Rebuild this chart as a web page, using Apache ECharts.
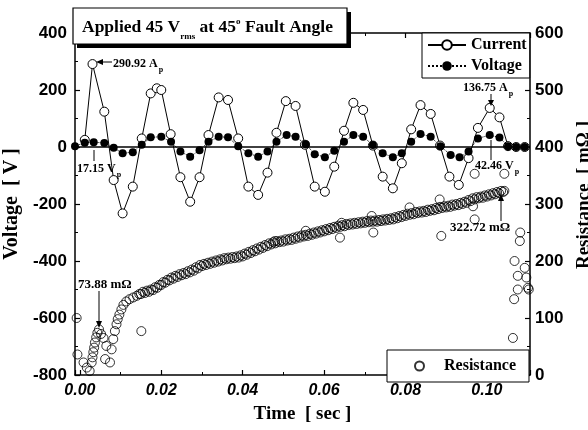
<!DOCTYPE html>
<html>
<head>
<meta charset="utf-8">
<script src="https://cdn.jsdelivr.net/npm/echarts@6/dist/echarts.min.js"></script>
<style>html,body{margin:0;padding:0;background:#fff}#c{width:588px;height:430px}</style>
</head>
<body>
<div id="c"></div>
<script>
// ---- data ----
var xTickDecimals = 2;
var currentData = [
  [0.0012, 25], [0.0031, 291], [0.0060, 124], [0.0083, -116], [0.0105, -233], [0.0130, -139],
  [0.0152, 30], [0.0174, 188], [0.0189, 206], [0.0200, 200], [0.0223, 45], [0.0247, -106],
  [0.0271, -192], [0.0294, -106], [0.0316, 42], [0.0341, 174], [0.0364, 165], [0.0389, 30],
  [0.0414, -139], [0.0438, -168], [0.0461, -90], [0.0483, 50], [0.0506, 161], [0.0530, 144],
  [0.0553, 8], [0.0577, -139], [0.0602, -157], [0.0625, -69], [0.0649, 57], [0.0672, 155],
  [0.0696, 130], [0.0720, 5], [0.0744, -104], [0.0769, -145], [0.0791, -57], [0.0814, 62],
  [0.0837, 147], [0.0862, 116], [0.0885, 5], [0.0908, -104], [0.0931, -133], [0.0955, -39],
  [0.0978, 67], [0.1007, 137], [0.1031, 104], [0.1052, 3], [0.1072, 0], [0.1093, 0]
];
var voltageData = [
  [-0.0012, 3], [0.0012, 15], [0.0034, 17], [0.0060, 14], [0.0083, -3], [0.0105, -22],
  [0.0130, -18], [0.0152, 8], [0.0174, 34], [0.0200, 36], [0.0224, 18], [0.0247, -16],
  [0.0271, -34], [0.0294, -11], [0.0316, 18], [0.0341, 36], [0.0364, 34], [0.0389, 3],
  [0.0414, -22], [0.0438, -34], [0.0461, -16], [0.0483, 18], [0.0508, 42], [0.0530, 36],
  [0.0555, 10], [0.0577, -25], [0.0602, -36], [0.0625, -13], [0.0649, 18], [0.0672, 42],
  [0.0696, 36], [0.0720, 7], [0.0744, -22], [0.0769, -36], [0.0791, -22], [0.0814, 18],
  [0.0837, 46], [0.0862, 36], [0.0886, 3], [0.0911, -28], [0.0933, -36], [0.0955, -16],
  [0.0978, 30], [0.1007, 42], [0.1031, 33], [0.1052, 3], [0.1072, 0], [0.1093, 0]
];
var resEarly = [
  [-0.0008, 100], [-0.0006, 36], [0.0009, 22], [0.0017, 13], [0.0024, 7], [0.0029, 22],
  [0.0031, 31], [0.0033, 40], [0.0035, 48], [0.0037, 57], [0.0040, 66], [0.0043, 74],
  [0.0047, 80], [0.0052, 72], [0.0058, 65], [0.0065, 51], [0.0062, 28], [0.0074, 22],
  [0.0078, 45], [0.0082, 63], [0.0086, 77], [0.0090, 89], [0.0093, 98], [0.0097, 106],
  [0.0102, 115], [0.0107, 123], [0.0114, 129], [0.0122, 133], [0.0131, 136], [0.0140, 139],
  [0.0146, 142]
];
var resBand = [
  [0.0150,142],[0.0155,146],[0.0160,144],[0.0165,148],[0.0170,146],[0.0175,150],[0.0180,149],[0.0185,154],
  [0.0190,153],[0.0195,158],[0.0200,158],[0.0205,163],[0.0210,162],[0.0215,167],[0.0220,166],[0.0225,171],
  [0.0230,169],[0.0235,174],[0.0240,172],[0.0245,177],[0.0250,175],[0.0255,179],[0.0260,177],[0.0265,182],
  [0.0270,180],[0.0275,185],[0.0280,183],[0.0285,189],[0.0290,187],[0.0295,193],[0.0300,191],[0.0305,195],
  [0.0310,193],[0.0315,197],[0.0320,195],[0.0325,199],[0.0330,197],[0.0335,201],[0.0340,199],[0.0345,203],
  [0.0350,201],[0.0355,205],[0.0360,203],[0.0365,206],[0.0370,204],[0.0375,207],[0.0380,205],[0.0385,208],
  [0.0390,206],[0.0395,210],[0.0400,208],[0.0405,213],[0.0410,211],[0.0415,216],[0.0420,214],[0.0425,219],
  [0.0430,217],[0.0435,222],[0.0440,220],[0.0445,225],[0.0450,223],[0.0455,228],[0.0460,226],[0.0465,231],
  [0.0470,229],[0.0475,233],[0.0480,231],[0.0485,235],[0.0490,233],[0.0495,236],[0.0500,234],[0.0505,238],
  [0.0510,236],[0.0515,239],[0.0520,237],[0.0525,241],[0.0530,239],[0.0535,243],[0.0540,241],[0.0545,245],
  [0.0550,243],[0.0555,246],[0.0560,244],[0.0565,248],[0.0570,246],[0.0575,250],[0.0580,248],[0.0585,252],
  [0.0590,250],[0.0595,254],[0.0600,252],[0.0605,256],[0.0610,254],[0.0615,258],[0.0620,256],[0.0625,260],
  [0.0630,258],[0.0635,262],[0.0640,260],[0.0645,263],[0.0650,261],[0.0655,265],[0.0660,263],[0.0665,266],
  [0.0670,264],[0.0675,267],[0.0680,265],[0.0685,268],[0.0690,266],[0.0695,269],[0.0700,267],[0.0705,270],
  [0.0710,268],[0.0715,271],[0.0720,269],[0.0725,271],[0.0730,269],[0.0735,272],[0.0740,270],[0.0745,273],
  [0.0750,271],[0.0755,274],[0.0760,272],[0.0765,275],[0.0770,273],[0.0775,277],[0.0780,275],[0.0785,279],
  [0.0790,277],[0.0795,281],[0.0800,279],[0.0805,283],[0.0810,281],[0.0815,284],[0.0820,282],[0.0825,286],
  [0.0830,284],[0.0835,287],[0.0840,285],[0.0845,288],[0.0850,286],[0.0855,290],[0.0860,288],[0.0865,291],
  [0.0870,289],[0.0875,293],[0.0880,291],[0.0885,295],[0.0890,293],[0.0895,296],[0.0900,294],[0.0905,297],
  [0.0910,295],[0.0915,299],[0.0920,297],[0.0925,300],[0.0930,298],[0.0935,302],[0.0940,300],[0.0945,304],
  [0.0950,302],[0.0955,307],[0.0960,305],[0.0965,310],[0.0970,308],[0.0975,312],[0.0980,310],[0.0985,313],
  [0.0990,311],[0.0995,315],[0.1000,313],[0.1005,317],[0.1010,315],[0.1015,319],[0.1020,317],[0.1025,321],
  [0.1030,319],[0.1035,323],[0.1040,321],[0.1043,323]
];
var resOutliers = [
  [0.0151, 77], [0.0479, 235], [0.0555, 253], [0.0643, 267], [0.0639, 241], [0.0717, 279],
  [0.0721, 250], [0.0810, 294], [0.0884, 308], [0.0888, 244], [0.0966, 296], [0.0970, 273],
  [0.0970, 353], [0.1043, 353]
];
var resTail = [
  [0.1064, 65], [0.1067, 133], [0.1068, 200], [0.1076, 150], [0.1076, 174], [0.1081, 235],
  [0.1082, 250], [0.1093, 188], [0.1097, 171], [0.1101, 153], [0.1103, 150]
];

var SERIF = "'Liberation Serif','DejaVu Serif',serif";
var SANS = "'Liberation Sans',Arial,sans-serif";
var chart = echarts.init(document.getElementById('c'), null, {renderer: 'canvas'});

function axisCommon() {
  return {
    axisLine: {show: true, onZero: false, lineStyle: {color: '#000', width: 1.5}},
    axisTick: {show: true, inside: true, length: 5, lineStyle: {color: '#000', width: 1.2}},
    minorTick: {show: true, splitNumber: 2, length: 3, lineStyle: {color: '#000', width: 1}},
    splitLine: {show: false},
    minorSplitLine: {show: false}
  };
}

var xBottom = Object.assign(axisCommon(), {
  type: 'value', position: 'bottom', min: -0.0012, max: 0.1106, splitNumber: 5,
  axisLabel: {show: true, margin: 8, color: '#000', fontFamily: SANS, fontWeight: 'bold', fontStyle: 'italic',
    fontSize: 16, showMinLabel: false, showMaxLabel: false,
    formatter: function (v) { return v.toFixed(xTickDecimals); }},
  name: 'Time  [ sec ]', nameLocation: 'middle', nameGap: 30,
  nameTextStyle: {color: '#000', fontFamily: SERIF, fontWeight: 'bold', fontSize: 19}
});
var xTop = Object.assign(axisCommon(), {
  type: 'value', position: 'top', min: -0.0012, max: 0.1106, splitNumber: 5,
  axisLabel: {show: false}
});
var yLeft = Object.assign(axisCommon(), {
  type: 'value', position: 'left', min: -800, max: 400, interval: 200,
  axisLabel: {show: true, margin: 8, color: '#000', fontFamily: SANS, fontWeight: 'bold', fontSize: 17},
  name: 'Voltage  [ V ]', nameLocation: 'middle', nameRotate: 90, nameGap: 46,
  nameTextStyle: {color: '#000', fontFamily: SERIF, fontWeight: 'bold', fontSize: 20}
});
var yRight = Object.assign(axisCommon(), {
  type: 'value', position: 'right', min: 0, max: 600, interval: 100,
  axisLabel: {show: true, margin: 5, color: '#000', fontFamily: SANS, fontWeight: 'bold', fontSize: 17},
  name: 'Resistance  [ mΩ ]', nameLocation: 'middle', nameRotate: 90, nameGap: 33,
  nameTextStyle: {color: '#000', fontFamily: SERIF, fontWeight: 'bold', fontSize: 19, padding: [0, 0, 0, 18]}
});

var subRich = function (size) {
  return {
    b: {fontFamily: SERIF, fontWeight: 'bold', fontSize: size, lineHeight: size + 2, verticalAlign: 'middle', fill: '#000'},
    s: {fontFamily: SERIF, fontWeight: 'bold', fontSize: 8, lineHeight: 8, padding: [12, 0, 0, 1], verticalAlign: 'middle', fill: '#000'}
  };
};
function annText(x, y, txt, size) {
  return {type: 'text', z: 50, style: {x: x, y: y, text: txt, rich: subRich(size), verticalAlign: 'middle', align: 'left', fill: '#000'}};
}
function vline(x, y1, y2) {
  return {type: 'line', z: 50, shape: {x1: x, y1: y1, x2: x, y2: y2}, style: {stroke: '#000', lineWidth: 1}};
}
function hline(x1, x2, y) {
  return {type: 'line', z: 50, shape: {x1: x1, y1: y, x2: x2, y2: y}, style: {stroke: '#000', lineWidth: 1}};
}
function tri(pts) {
  return {type: 'polygon', z: 50, shape: {points: pts}, style: {fill: '#000'}};
}

var graphics = [
  // title box
  {type: 'rect', z: 60, shape: {x: 77, y: 12, width: 274, height: 36}, style: {fill: '#000'}},
  {type: 'rect', z: 61, shape: {x: 73, y: 8, width: 274, height: 36}, style: {fill: '#fff', stroke: '#000', lineWidth: 1.2}},
  {type: 'text', z: 62, style: {
    x: 82, y: 27.5, align: 'left', verticalAlign: 'middle', fill: '#000',
    text: '{a|Applied 45 V}{s|rms}{a| at 45}{u|o}{a| Fault Angle}',
    rich: {
      a: {fontFamily: SERIF, fontWeight: 'bold', fontSize: 17.5, lineHeight: 20, verticalAlign: 'middle', fill: '#000'},
      s: {fontFamily: SERIF, fontWeight: 'bold', fontSize: 9, lineHeight: 10, padding: [18, 0, 0, 0], verticalAlign: 'middle', fill: '#000'},
      u: {fontFamily: SERIF, fontWeight: 'bold', fontSize: 9, lineHeight: 10, padding: [0, 0, 12, 0], verticalAlign: 'middle', fill: '#000'}
    }
  }},
  // 290.92 Ap
  annText(113, 64, '{b|290.92 A}{s|p}', 12),
  hline(101, 112, 62), tri([[96, 62], [103, 59], [103, 65]]),
  // 17.15 Vp
  annText(77, 169, '{b|17.15 V}{s|p}', 12),
  vline(94, 150, 161),
  // 136.75 Ap
  annText(463, 88, '{b|136.75 A}{s|p}', 12),
  vline(491, 94, 101), tri([[488, 100], [494, 100], [491, 106]]),
  // 42.46 Vp
  annText(475, 166, '{b|42.46 V}{s|p}', 12),
  vline(491, 140, 160),
  // 322.72 mΩ
  annText(450, 228, '{b|322.72 mΩ}', 13),
  vline(501, 200, 221), tri([[501, 194], [498, 201], [504, 201]]),
  // 73.88 mΩ
  annText(78, 285, '{b|73.88 mΩ}', 13),
  vline(99, 291, 322), tri([[96, 321], [102, 321], [99, 328]])
];

var option = {
  animation: false,
  backgroundColor: '#fff',
  grid: {left: 75, right: 58, top: 33, bottom: 55, containLabel: false, outerBoundsMode: 'none'},
  xAxis: [xBottom, xTop],
  yAxis: [yLeft, yRight],
  legend: [
    {data: ['Current', 'Voltage'], orient: 'vertical', left: 422, top: 33, itemWidth: 38, itemHeight: 12, itemGap: 5,
      padding: [4, 3, 4, 5], borderColor: '#000', borderWidth: 1, backgroundColor: '#fff', selectedMode: false, z: 40,
      textStyle: {color: '#000', fontFamily: SERIF, fontWeight: 'bold', fontSize: 16}},
    {data: ['Resistance'], orient: 'vertical', left: 387, top: 350, itemWidth: 9, itemHeight: 9,
      padding: [8, 13, 8, 27], borderColor: '#000', borderWidth: 1, backgroundColor: '#fff', selectedMode: false, z: 40,
      textStyle: {color: '#000', fontFamily: SERIF, fontWeight: 'bold', fontSize: 16, padding: [0, 0, 0, 15]}}
  ],
  series: [
    {name: 'Resistance', type: 'scatter', xAxisIndex: 0, yAxisIndex: 1, z: 2,
      symbol: 'circle', symbolSize: 9,
      itemStyle: {color: 'rgba(255,255,255,0)', borderColor: '#000', borderWidth: 1},
      data: resEarly.concat(resBand, resOutliers, resTail)},
    {name: 'Current', type: 'line', xAxisIndex: 0, yAxisIndex: 0, z: 3,
      symbol: 'circle', symbolSize: 9, showAllSymbol: true,
      itemStyle: {color: '#fff', borderColor: '#000', borderWidth: 1},
      lineStyle: {color: '#000', width: 1},
      data: currentData},
    {name: 'Voltage', type: 'line', xAxisIndex: 0, yAxisIndex: 0, z: 4,
      symbol: 'circle', symbolSize: 8, showAllSymbol: true,
      itemStyle: {color: '#000', borderColor: '#000', borderWidth: 0},
      lineStyle: {color: '#000', width: 1, type: 'dotted'},
      markLine: {silent: true, symbol: ['none', 'none'], label: {show: false},
        lineStyle: {color: '#000', width: 1.5, type: 'solid'}, data: [{yAxis: 0}]},
      data: voltageData}
  ],
  graphic: graphics
};
chart.setOption(option);
</script>
</body>
</html>
